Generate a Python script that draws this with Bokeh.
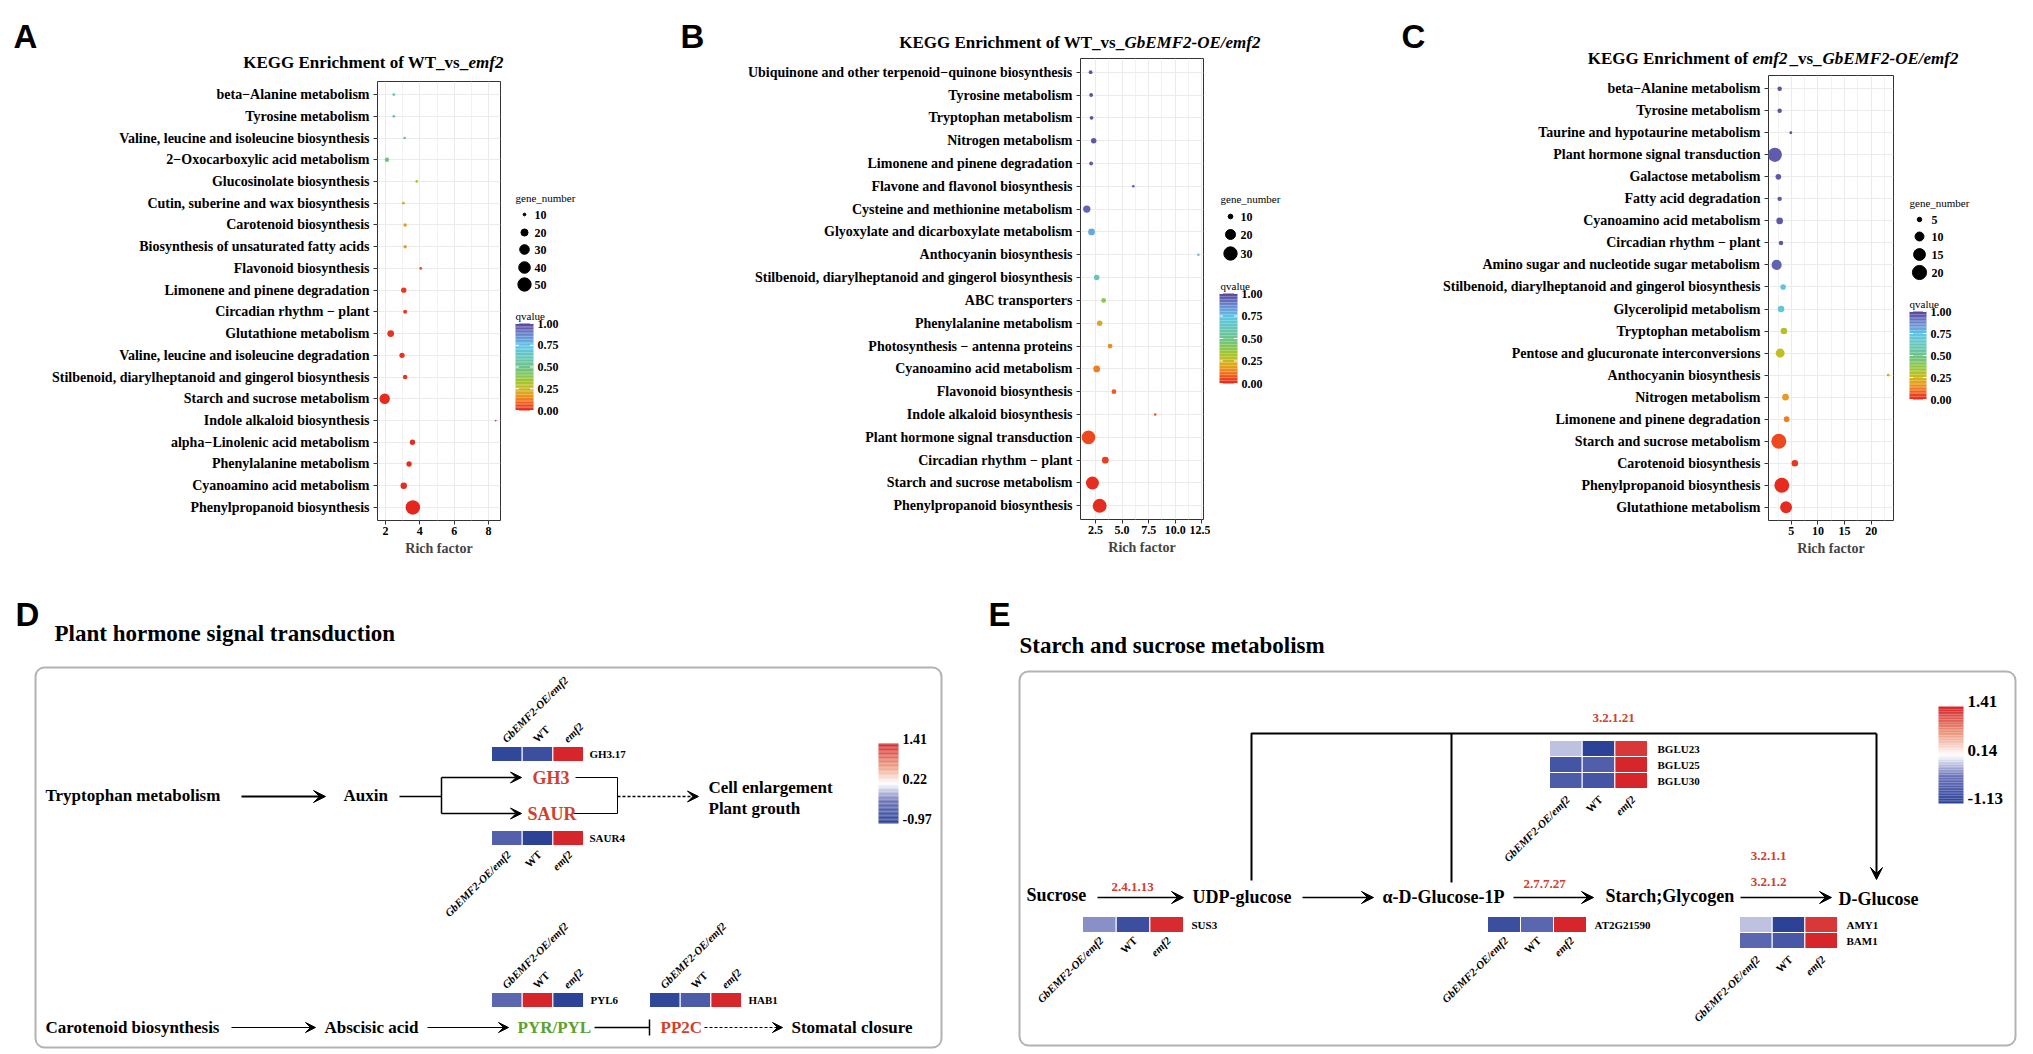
import math
import numpy as np
from bokeh.plotting import figure
from bokeh.models import (ColumnDataSource, Range1d, LinearColorMapper,
                          FixedTicker, PrintfTickFormatter, Label, Arrow, VeeHead, BoxAnnotation)
from bokeh.layouts import row, column
from bokeh.embed import file_html
from bokeh.resources import INLINE

SERIF = "Liberation Serif"
SANS = "Liberation Sans"

# ------------------------------------------------------------------ data
A_pathways = ["beta\u2212Alanine metabolism", "Tyrosine metabolism",
              "Valine, leucine and isoleucine biosynthesis", "2\u2212Oxocarboxylic acid metabolism",
              "Glucosinolate biosynthesis", "Cutin, suberine and wax biosynthesis",
              "Carotenoid biosynthesis", "Biosynthesis of unsaturated fatty acids",
              "Flavonoid biosynthesis", "Limonene and pinene degradation",
              "Circadian rhythm \u2212 plant", "Glutathione metabolism",
              "Valine, leucine and isoleucine degradation",
              "Stilbenoid, diarylheptanoid and gingerol biosynthesis",
              "Starch and sucrose metabolism", "Indole alkaloid biosynthesis",
              "alpha\u2212Linolenic acid metabolism", "Phenylalanine metabolism",
              "Cyanoamino acid metabolism", "Phenylpropanoid biosynthesis"]
A_rich = [2.48, 2.48, 3.11, 2.08, 3.82, 3.04, 3.14, 3.14, 4.05, 3.06,
          3.14, 2.30, 2.96, 3.14, 1.95, 8.42, 3.57, 3.37, 3.06, 3.59]
A_genes = [10, 10, 10, 13, 10, 10, 11, 11, 10, 15, 12, 19, 15, 13, 34, 9, 15, 15, 18, 57]
A_q = [0.58, 0.58, 0.56, 0.50, 0.30, 0.22, 0.18, 0.18, 0.06, 0.03,
       0.03, 0.02, 0.02, 0.02, 0.01, 0.03, 0.01, 0.01, 0.01, 0.00]
A_size_legend = [10, 20, 30, 40, 50]

B_pathways = ["Ubiquinone and other terpenoid\u2212quinone biosynthesis", "Tyrosine metabolism",
              "Tryptophan metabolism", "Nitrogen metabolism", "Limonene and pinene degradation",
              "Flavone and flavonol biosynthesis", "Cysteine and methionine metabolism",
              "Glyoxylate and dicarboxylate metabolism", "Anthocyanin biosynthesis",
              "Stilbenoid, diarylheptanoid and gingerol biosynthesis", "ABC transporters",
              "Phenylalanine metabolism", "Photosynthesis \u2212 antenna proteins",
              "Cyanoamino acid metabolism", "Flavonoid biosynthesis", "Indole alkaloid biosynthesis",
              "Plant hormone signal transduction", "Circadian rhythm \u2212 plant",
              "Starch and sucrose metabolism", "Phenylpropanoid biosynthesis"]
B_rich = [2.05, 2.10, 2.14, 2.34, 2.10, 6.06, 1.69, 2.14, 12.17, 2.62,
          3.27, 2.90, 3.88, 2.62, 4.24, 8.12, 1.85, 3.43, 2.22, 2.90]
B_genes = [9, 9, 9, 11, 9, 8, 14, 13, 8, 11, 10, 11, 10, 13, 10, 8, 31, 13, 29, 32]
B_q = [0.97, 0.97, 0.97, 0.96, 0.96, 0.95, 0.93, 0.80, 0.72, 0.62,
       0.38, 0.20, 0.16, 0.13, 0.08, 0.08, 0.06, 0.04, 0.015, 0.01]
B_size_legend = [10, 20, 30]

C_pathways = ["beta\u2212Alanine metabolism", "Tyrosine metabolism",
              "Taurine and hypotaurine metabolism", "Plant hormone signal transduction",
              "Galactose metabolism", "Fatty acid degradation", "Cyanoamino acid metabolism",
              "Circadian rhythm \u2212 plant", "Amino sugar and nucleotide sugar metabolism",
              "Stilbenoid, diarylheptanoid and gingerol biosynthesis", "Glycerolipid metabolism",
              "Tryptophan metabolism", "Pentose and glucuronate interconversions",
              "Anthocyanin biosynthesis", "Nitrogen metabolism", "Limonene and pinene degradation",
              "Starch and sucrose metabolism", "Carotenoid biosynthesis",
              "Phenylpropanoid biosynthesis", "Glutathione metabolism"]
C_rich = [2.8, 2.8, 4.9, 1.9, 2.55, 2.8, 2.8, 3.05, 2.23, 3.45,
          3.05, 3.6, 2.9, 23.2, 3.9, 4.1, 2.64, 5.65, 3.2, 4.0]
C_genes = [5, 5, 4, 20, 6, 5, 7, 5, 12, 6, 7, 7, 10, 4, 7, 6, 22, 7, 22, 15]
C_q = [0.97, 0.97, 0.97, 0.95, 0.96, 0.96, 0.96, 0.96, 0.94, 0.72,
       0.70, 0.30, 0.27, 0.20, 0.18, 0.13, 0.06, 0.03, 0.01, 0.01]
C_size_legend = [5, 10, 15, 20]

Q_TICKS = [0.0, 0.25, 0.5, 0.75, 1.0]

GROUPS = ["GbEMF2-OE/emf2", "WT", "emf2"]
D_GH3_17 = [-0.90, -0.80, 1.41]
D_SAUR4 = [-0.55, -0.97, 1.41]
D_PYL6 = [-0.45, 1.41, -0.95]
D_HAB1 = [-0.90, -0.60, 1.40]
D_SCALE = [-0.97, 0.22, 1.41]
E_SUS3 = [-0.30, -0.95, 1.38]
E_BGLU23 = [-0.10, -1.13, 1.30]
E_BGLU25 = [-0.85, -0.70, 1.41]
E_BGLU30 = [-0.75, -0.85, 1.41]
E_AT2G21590 = [-0.95, -0.60, 1.41]
E_AMY1 = [-0.10, -1.13, 1.30]
E_BAM1 = [-0.60, -0.80, 1.41]
E_SCALE = [-1.13, 0.14, 1.41]


# ------------------------------------------------------------------ palettes
def ramp(stops, n=256):
    out = []
    for i in range(n):
        t = i / (n - 1)
        for k in range(len(stops) - 1):
            t0, c0 = stops[k]
            t1, c1 = stops[k + 1]
            if t <= t1 or k == len(stops) - 2:
                f = 0.0 if t1 == t0 else min(max((t - t0) / (t1 - t0), 0.0), 1.0)
                a = [int(c0[j:j + 2], 16) for j in (1, 3, 5)]
                b = [int(c1[j:j + 2], 16) for j in (1, 3, 5)]
                out.append("#%02x%02x%02x" % tuple(int(round(a[m] + (b[m] - a[m]) * f)) for m in range(3)))
                break
    return out


Q_PAL = ramp([(0.00, "#e5261f"), (0.06, "#ee4a1e"), (0.12, "#f0781e"), (0.19, "#e5a21d"),
              (0.27, "#c3bd1f"), (0.36, "#94c63a"), (0.48, "#6fc47e"), (0.60, "#66c5b2"),
              (0.74, "#5ec6e6"), (0.86, "#6b8ed3"), (1.00, "#5a439a")])
DIV_PAL = ramp([(0.0, "#2b4297"), (0.28, "#6a72b8"), (0.5, "#ffffff"), (0.72, "#ec9a80"), (1.0, "#d6262b")])

RED = "#d0402c"
GREEN = "#5ba22e"

TOP_H = 588            # top row: page y 0..588
BOT_Y0, BOT_H = 588, 462
PAGE_W = 2025


def add_label(p, x, y, text, size, style="bold", color="black", align="left",
              baseline="middle", font=SERIF, angle=0.0, **kw):
    p.add_layout(Label(x=x, y=y, text=text, text_font=font, text_font_size=f"{size}px",
                       text_font_style=style, text_color=color, text_align=align,
                       text_baseline=baseline, angle=angle, **kw))


def gradient_bar(p, mapper, low, high, left, right, top, bottom, ticks, fs, label_dy=0.0,
                 tick_marks=False, fmt="%.2f"):
    """Colour bar drawn as thin slices coloured through the colour mapper."""
    n = 60
    vals = [low + (high - low) * (i + 0.5) / n for i in range(n)]
    h = (bottom - top) / n
    src = ColumnDataSource(dict(left=[left] * n, right=[right] * n,
                                top=[bottom - (i + 1) * h for i in range(n)],
                                bottom=[bottom - i * h for i in range(n)], v=vals))
    p.quad(left="left", right="right", top="top", bottom="bottom", source=src, line_color=None,
           fill_color={"field": "v", "transform": mapper})
    for t in ticks:
        yy = bottom - (t - low) / (high - low) * (bottom - top)
        if tick_marks:
            p.segment(x0=[left, right - 3.5], y0=[yy, yy], x1=[left + 3.5, right], y1=[yy, yy],
                      line_color="white", line_width=1)
        add_label(p, right + 4, yy + label_dy, fmt % t, fs)


def kegg_panel(cats, rich, genes, q, legend_vals, spec):
    fl, fr, ft, fb = spec["frame"]
    x0, W = spec["fig"]
    lx0, LW = spec["leg_fig"]
    sh = spec["strip_h"]
    H = TOP_H - sh
    a, b = spec["size_ab"]
    n = len(cats)
    dia = lambda g: np.sqrt(np.maximum(a + b * np.asarray(g, float), 2.25))
    mapper = LinearColorMapper(palette=Q_PAL, low=0, high=1)

    # strip with panel letter and title
    st = figure(width=W + LW, height=sh, x_range=Range1d(x0, x0 + W + LW), y_range=Range1d(sh, 0),
                output_backend="svg", toolbar_location=None, title=None, min_border=0,
                x_axis_location=None, y_axis_location=None)
    st.outline_line_color = None
    st.grid.visible = False
    lx, ly, letter = spec["letter"]
    add_label(st, lx, ly, letter, 33, font=SANS, baseline="alphabetic")
    for (txt, style, align, xx) in spec["title"]:
        add_label(st, xx, spec["title_y"], txt, 17, style=style, align=align)

    ypos = [n - k for k in range(n)]          # first pathway at the top
    src = ColumnDataSource(dict(y=ypos, rich=rich, q=q, d=dia(genes)))
    p = figure(width=W, height=H, x_range=Range1d(*spec["xr"]),
               y_range=Range1d(0.4, n + 0.6),
               output_backend="svg", toolbar_location=None, title=None,
               min_border_left=fl - x0, min_border_right=x0 + W - fr,
               min_border_top=ft - sh, min_border_bottom=TOP_H - fb)
    p.outline_line_color = "#333333"
    p.outline_line_width = 1
    p.background_fill_color = "white"
    p.grid.grid_line_color = "#ebebeb"
    p.xgrid.minor_grid_line_color = "#f2f2f2"
    p.xaxis.ticker = FixedTicker(ticks=spec["ticks"], minor_ticks=spec["minor"])
    p.xaxis.formatter = PrintfTickFormatter(format=spec["fmt"])
    p.xaxis.axis_label = "Rich factor"
    p.yaxis.ticker = FixedTicker(ticks=ypos)
    p.yaxis.major_label_overrides = {yy: c for yy, c in zip(ypos, cats)}
    for ax in (p.xaxis[0], p.yaxis[0]):
        ax.axis_line_color = None
        ax.major_tick_out = 4
        ax.major_tick_in = 0
        ax.major_tick_line_color = "#333333"
        ax.minor_tick_line_color = None
        ax.major_label_text_font = SERIF
        ax.major_label_text_font_style = "bold"
        ax.major_label_text_color = "black"
    p.xaxis.major_label_text_font_size = "12px"
    p.xaxis.major_label_standoff = 2
    p.xaxis.axis_label_text_font = SERIF
    p.xaxis.axis_label_text_font_size = "14px"
    p.xaxis.axis_label_text_font_style = "bold"
    p.xaxis.axis_label_standoff = 3
    p.yaxis.major_label_text_font_size = "14px"
    p.yaxis.major_label_standoff = 4
    p.scatter(x="rich", y="y", size="d", source=src, line_color=None,
              fill_color={"field": "q", "transform": mapper})

    # legend figure: its frame is aligned with the plot frame (page y ft..fb)
    lg = figure(width=LW, height=H, x_range=Range1d(lx0, lx0 + LW),
                y_range=Range1d(fb, ft), output_backend="svg",
                toolbar_location=None, title=None, min_border_left=0, min_border_right=0,
                min_border_top=ft - sh, min_border_bottom=TOP_H - fb,
                x_axis_location=None, y_axis_location=None)
    lg.outline_line_color = None
    lg.grid.visible = False
    gx, gy = spec["gene_title"]
    add_label(lg, gx, gy, "gene_number", 11, style="normal")
    lg.scatter(x=[spec["dot_x"]] * len(legend_vals), y=spec["dot_y"], size=dia(legend_vals),
               color="black")
    for v, yy in zip(legend_vals, spec["dot_y"]):
        add_label(lg, spec["lab_x"], yy, str(v), 12)
    qx, qy = spec["q_title"]
    add_label(lg, qx, qy, "qvalue", 11, style="normal")
    cl, cr, ct, cb = spec["cbar"]
    gradient_bar(lg, mapper, 0.0, 1.0, cl, cr, ct, cb, Q_TICKS, 12, tick_marks=True)
    return column(st, row(p, lg))


SPEC_A = dict(frame=(377, 500, 81, 520), fig=(0, 508), strip_h=72, xr=(1.53, 8.7),
              ticks=[2, 4, 6, 8], minor=[3, 5, 7], fmt="%d", size_ab=(-35, 4.25),
              title=[("KEGG Enrichment of WT_vs_", "bold", "right", 468),
                     ("emf2", "bold italic", "left", 468)], title_y=62,
              letter=(13, 36, "A"), leg_fig=(508, 152), gene_title=(515, 197),
              dot_x=524, dot_y=[214, 232, 249, 267, 284], lab_x=534, q_title=(515, 315),
              cbar=(515, 533, 323, 410))
SPEC_B = dict(frame=(1080, 1203, 58, 519), fig=(660, 550), strip_h=52, xr=(1.1, 12.65),
              ticks=[2.5, 5, 7.5, 10, 12.5], minor=[3.75, 6.25, 8.75, 11.25], fmt="%.1f",
              size_ab=(-55, 7.75),
              title=[("KEGG Enrichment of WT_vs_", "bold", "right", 1124),
                     ("GbEMF2-OE/emf2", "bold italic", "left", 1124)], title_y=42,
              letter=(680, 36, "B"), leg_fig=(1210, 150), gene_title=(1220, 198),
              dot_x=1230, dot_y=[216, 234, 253], lab_x=1240, q_title=(1220, 285),
              cbar=(1219, 1237, 293, 383))
SPEC_C = dict(frame=(1768, 1893, 75, 520), fig=(1360, 540), strip_h=68, xr=(0.7, 24.2),
              ticks=[5, 10, 15, 20], minor=[2.5, 7.5, 12.5, 17.5, 22.5], fmt="%d",
              size_ab=(-40, 12.0),
              title=[("KEGG Enrichment of ", "bold", "right", 1752),
                     ("emf2", "bold italic", "left", 1752),
                     ("_vs_", "bold", "left", 1789),
                     ("GbEMF2-OE/emf2", "bold italic", "left", 1822)], title_y=58,
              letter=(1401, 36, "C"), leg_fig=(1900, 125), gene_title=(1909, 202),
              dot_x=1919, dot_y=[219, 236, 254, 272], lab_x=1931, q_title=(1909, 303),
              cbar=(1909, 1926, 311, 399))

panelA = kegg_panel(A_pathways, A_rich, A_genes, A_q, A_size_legend, SPEC_A)
panelB = kegg_panel(B_pathways, B_rich, B_genes, B_q, B_size_legend, SPEC_B)
panelC = kegg_panel(C_pathways, C_rich, C_genes, C_q, C_size_legend, SPEC_C)

# ------------------------------------------------------------------ pathway diagrams (D, E)
bp = figure(width=PAGE_W, height=BOT_H, x_range=Range1d(0, PAGE_W),
            y_range=Range1d(BOT_Y0 + BOT_H, BOT_Y0),
            output_backend="svg", toolbar_location=None, title=None, min_border=0,
            x_axis_location=None, y_axis_location=None)
bp.outline_line_color = None
bp.grid.visible = False

mapD = LinearColorMapper(palette=DIV_PAL, low=D_SCALE[0], high=D_SCALE[2])
mapE = LinearColorMapper(palette=DIV_PAL, low=E_SCALE[0], high=E_SCALE[2])


def T(x, y, s, size, **kw):
    add_label(bp, x, y, s, size, **kw)


def arrow(x0, y0, x1, y1, w=2.0, head=12, dash="solid"):
    bp.add_layout(Arrow(end=VeeHead(size=head, fill_color="black", line_color="black", line_width=1),
                        x_start=x0, y_start=y0, x_end=x1, y_end=y1, line_width=w,
                        line_color="black", line_dash=dash))


def seg(xs, ys, w=1.5):
    bp.line(xs, ys, line_width=w, line_color="black")


def heatmap(rows, x0, ytop, cw, ch, mapper, genes, gene_x, label_pos, label_y):
    L, R, Tt, B, V = [], [], [], [], []
    for r, vals in enumerate(rows):
        for c, v in enumerate(vals):
            L.append(x0 + c * cw); R.append(x0 + (c + 1) * cw)
            Tt.append(ytop + r * ch); B.append(ytop + (r + 1) * ch); V.append(v)
    bp.quad(left="left", right="right", top="top", bottom="bottom", line_color="white", line_width=1,
            fill_color={"field": "v", "transform": mapper},
            source=ColumnDataSource(dict(left=L, right=R, top=Tt, bottom=B, v=V)))
    for r, g in enumerate(genes):
        T(gene_x, ytop + (r + 0.5) * ch, g, 11)
    for c, g in enumerate(GROUPS):
        cx = x0 + (c + 0.5) * cw
        st = "bold" if g == "WT" else "bold italic"
        if label_pos == "above":
            T(cx - 3, label_y, g, 11, style=st, align="left", angle=math.pi / 4)
        else:
            T(cx + 2, label_y, g, 11, style=st, align="right", angle=math.pi / 4)


# ---- panel D
T(15, 614, "D", 33, font=SANS, baseline="alphabetic")
T(54, 633, "Plant hormone signal transduction", 23)
bp.add_layout(BoxAnnotation(left=35, right=941, top=667, bottom=1047, fill_color=None,
                            line_color="black", line_width=2, border_radius=9))
T(45, 795, "Tryptophan metabolism", 17)
arrow(241, 796, 325, 796)
T(343, 795, "Auxin", 17)
seg([399, 441], [796, 796])
seg([441, 441], [777, 813])
arrow(441, 777, 521, 777, w=1.5, head=11)
arrow(441, 813, 521, 813, w=1.5, head=11)
T(532, 777, "GH3", 18, color=RED)
T(527, 813, "SAUR", 18, color=RED)
seg([575, 617, 617, 573], [777, 777, 813, 813], w=1)
arrow(617, 796, 698, 796, w=1.5, head=11, dash="3 2")
T(708, 787, "Cell enlargement", 17)
T(708, 808, "Plant grouth", 17)
heatmap([D_GH3_17], 491, 746, 30.7, 15, mapD, ["GH3.17"], 589, "above", 740)
heatmap([D_SAUR4], 491, 830, 30.7, 15, mapD, ["SAUR4"], 589, "below", 852)
heatmap([D_PYL6], 491, 992, 30.7, 15, mapD, ["PYL6"], 590, "above", 986)
heatmap([D_HAB1], 649, 992, 30.7, 15, mapD, ["HAB1"], 748, "above", 986)
gradient_bar(bp, mapD, D_SCALE[0], D_SCALE[2], 878, 898, 743, 823, D_SCALE, 14, label_dy=-5)
T(45, 1027, "Carotenoid biosynthesis", 17)
arrow(231, 1027, 315, 1027, w=1.2, head=10)
T(324, 1027, "Abscisic acid", 17)
arrow(427, 1027, 508, 1027, w=1.2, head=10)
T(517, 1027, "PYR/PYL", 17, color=GREEN)
seg([594, 649], [1027, 1027], w=1.5)
seg([649, 649], [1019, 1035], w=1.5)
T(660, 1027, "PP2C", 17, color=RED)
arrow(704, 1027, 782, 1027, w=1, head=10, dash="3 2")
T(791, 1027, "Stomatal closure", 17)

# ---- panel E
T(988, 614, "E", 33, font=SANS, baseline="alphabetic")
T(1019, 645, "Starch and sucrose metabolism", 23)
bp.add_layout(BoxAnnotation(left=1019, right=2015, top=671, bottom=1045, fill_color=None,
                            line_color="black", line_width=2, border_radius=9))
T(1026, 894, "Sucrose", 18)
arrow(1097, 897, 1183, 897, w=1.5)
T(1132, 886, "2.4.1.13", 13, color=RED, align="center")
T(1192, 896, "UDP-glucose", 18)
arrow(1302, 897, 1373, 897, w=1.5)
T(1382, 896, "\u03b1-D-Glucose-1P", 18)
arrow(1513, 897, 1593, 897, w=1.5)
T(1544, 883, "2.7.7.27", 13, color=RED, align="center")
T(1605, 895, "Starch;Glycogen", 18)
arrow(1740, 897, 1831, 897, w=1.5)
T(1768, 855, "3.2.1.1", 13, color=RED, align="center")
T(1768, 881, "3.2.1.2", 13, color=RED, align="center")
T(1838, 898, "D-Glucose", 18)
seg([1251, 1251, 1876], [880, 733, 733], w=2)
seg([1451, 1451], [733, 882], w=2)
arrow(1876, 733, 1876, 879, w=2)
T(1613, 717, "3.2.1.21", 13, color=RED, align="center")
heatmap([E_BGLU23, E_BGLU25, E_BGLU30], 1549, 740, 32.7, 16, mapE,
        ["BGLU23", "BGLU25", "BGLU30"], 1657, "below", 797)
heatmap([E_SUS3], 1082, 916, 33.7, 16, mapE, ["SUS3"], 1191, "below", 938)
heatmap([E_AT2G21590], 1487, 916, 33.0, 16, mapE, ["AT2G21590"], 1594, "below", 938)
heatmap([E_AMY1, E_BAM1], 1739, 916, 32.7, 16, mapE, ["AMY1", "BAM1"], 1846, "below", 957)
gradient_bar(bp, mapE, E_SCALE[0], E_SCALE[2], 1938, 1963, 706, 803, E_SCALE, 17, label_dy=-5)

layout = column(row(panelA, panelB, panelC), bp)
open("out.html", "w").write(file_html(layout, INLINE))
